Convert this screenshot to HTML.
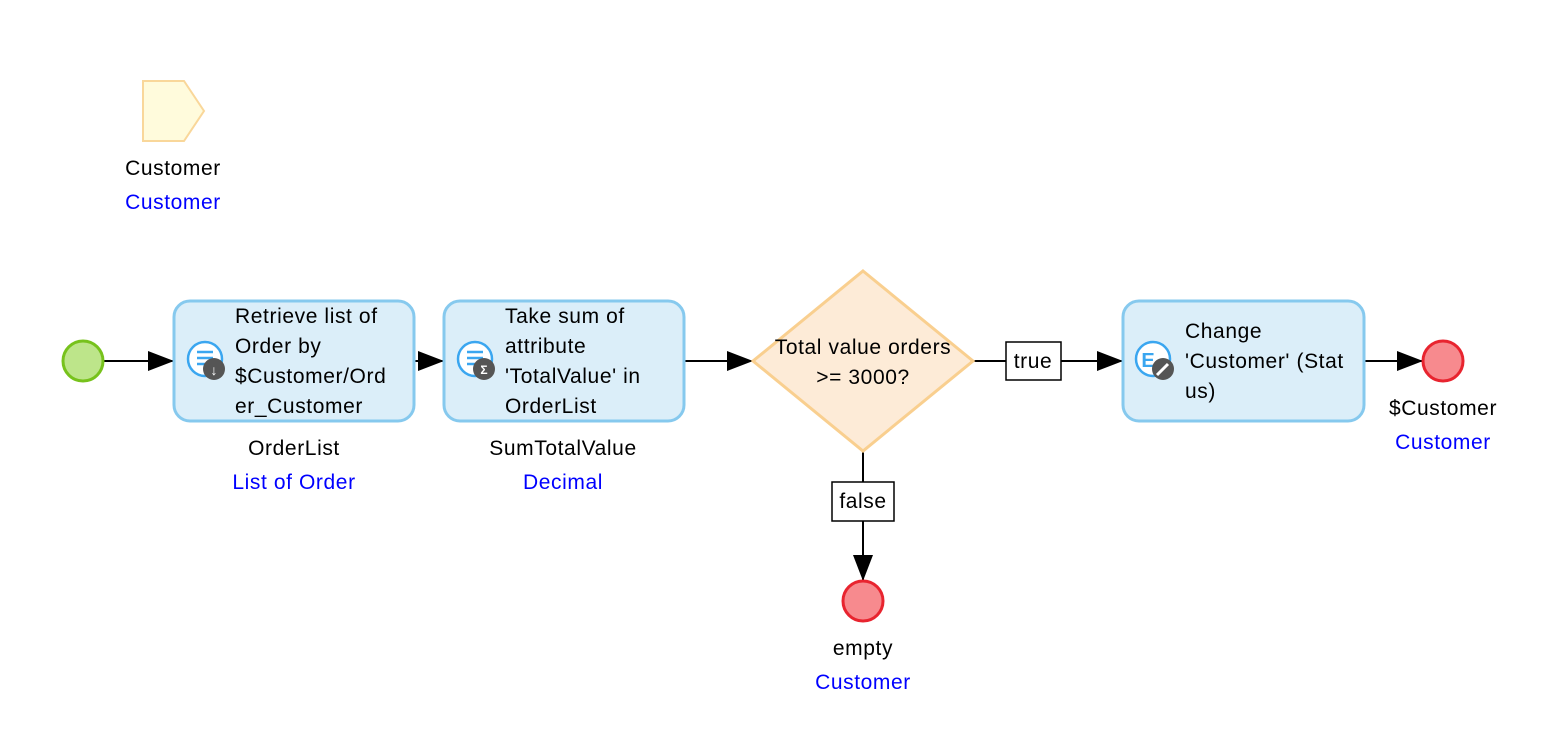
<!DOCTYPE html>
<html><head><meta charset="utf-8"><style>
body{margin:0;background:#fff}
svg text{font-family:"Liberation Sans",sans-serif;font-size:21px;letter-spacing:0.6px}
</style></head><body>
<svg width="1546" height="744" xmlns="http://www.w3.org/2000/svg">
<defs>
<marker id="b" markerWidth="26" markerHeight="20" refX="26" refY="10" orient="auto" markerUnits="userSpaceOnUse"><path d="M0,0 L26,10 L0,20 z" fill="#000"/></marker></defs>
<polygon points="143,81 184,81 204,111 184,141 143,141" fill="#fffbdc" stroke="#f9d79a" stroke-width="2"/>
<text x="173" y="175" text-anchor="middle">Customer</text>
<text x="173" y="209" text-anchor="middle" fill="#0000ff">Customer</text>
<g stroke="#000" stroke-width="2" fill="none">
<line x1="104" y1="361" x2="174" y2="361" marker-end="url(#b)"/>
<line x1="414" y1="361" x2="444" y2="361" marker-end="url(#b)"/>
<line x1="684" y1="361" x2="753" y2="361" marker-end="url(#b)"/>
<line x1="973" y1="361" x2="1123" y2="361" marker-end="url(#b)"/>
<line x1="1364" y1="361" x2="1423" y2="361" marker-end="url(#b)"/>
<line x1="863" y1="451" x2="863" y2="581" marker-end="url(#b)"/>
</g>
<circle cx="83" cy="361" r="20" fill="#bde58a" stroke="#77c21c" stroke-width="3"/>
<g fill="#dbeef9" stroke="#86c9ee" stroke-width="3">
<rect x="174" y="301" width="240" height="120" rx="16"/>
<rect x="444" y="301" width="240" height="120" rx="16"/>
<rect x="1123" y="301" width="241" height="120" rx="16"/>
</g>
<polygon points="863,271 973,361 863,451 753,361" fill="#fdebd7" stroke="#f9cf8f" stroke-width="3"/>
<g>
<circle cx="205" cy="359" r="17" fill="#fff" stroke="#3aa6f0" stroke-width="2.5"/>
<g stroke="#3aa6f0" stroke-width="2.5"><line x1="197" y1="352" x2="213" y2="352"/><line x1="197" y1="358" x2="213" y2="358"/><line x1="197" y1="364" x2="207" y2="364"/></g>
<circle cx="214" cy="369" r="11" fill="#555"/><text x="214" y="375" fill="#fff" text-anchor="middle" style="font-size:14px;font-weight:bold;letter-spacing:0">↓</text>
<circle cx="475" cy="359" r="17" fill="#fff" stroke="#3aa6f0" stroke-width="2.5"/>
<g stroke="#3aa6f0" stroke-width="2.5"><line x1="467" y1="352" x2="483" y2="352"/><line x1="467" y1="358" x2="483" y2="358"/><line x1="467" y1="364" x2="477" y2="364"/></g>
<circle cx="484" cy="369" r="11" fill="#555"/><text x="484" y="374" fill="#fff" text-anchor="middle" style="font-size:12px;font-weight:bold;letter-spacing:0">Σ</text>
<circle cx="1153" cy="359" r="17" fill="#fff" stroke="#3aa6f0" stroke-width="2.5"/>
<text x="1148" y="367" fill="#3aa6f0" text-anchor="middle" style="font-size:20px;font-weight:bold;letter-spacing:0">E</text>
<circle cx="1163" cy="369" r="11" fill="#555"/><line x1="1157" y1="375" x2="1168" y2="364" stroke="#fff" stroke-width="3"/>
</g>
<text x="235" y="323">Retrieve list of</text><text x="235" y="353">Order by</text><text x="235" y="383">$Customer/Ord</text><text x="235" y="413">er_Customer</text>
<text x="505" y="323">Take sum of</text><text x="505" y="353">attribute</text><text x="505" y="383">'TotalValue' in</text><text x="505" y="413">OrderList</text>
<text x="1185" y="338">Change</text><text x="1185" y="368">'Customer' (Stat</text><text x="1185" y="398">us)</text>
<text x="863" y="354" text-anchor="middle">Total value orders</text><text x="863" y="384" text-anchor="middle">&gt;= 3000?</text>
<text x="294" y="455" text-anchor="middle">OrderList</text><text x="294" y="489" text-anchor="middle" fill="#0000ff">List of Order</text>
<text x="563" y="455" text-anchor="middle">SumTotalValue</text><text x="563" y="489" text-anchor="middle" fill="#0000ff">Decimal</text>
<rect x="1006" y="342" width="55" height="38" fill="#fff" stroke="#000" stroke-width="1.5"/><text x="1033" y="368" text-anchor="middle">true</text>
<rect x="832" y="482" width="62" height="39" fill="#fff" stroke="#000" stroke-width="1.5"/><text x="863" y="508" text-anchor="middle">false</text>
<circle cx="1443" cy="361" r="20" fill="#f78a8e" stroke="#e8242f" stroke-width="3"/>
<circle cx="863" cy="601" r="20" fill="#f78a8e" stroke="#e8242f" stroke-width="3"/>
<text x="1443" y="415" text-anchor="middle">$Customer</text><text x="1443" y="449" text-anchor="middle" fill="#0000ff">Customer</text>
<text x="863" y="655" text-anchor="middle">empty</text><text x="863" y="689" text-anchor="middle" fill="#0000ff">Customer</text>
</svg>
</body></html>
